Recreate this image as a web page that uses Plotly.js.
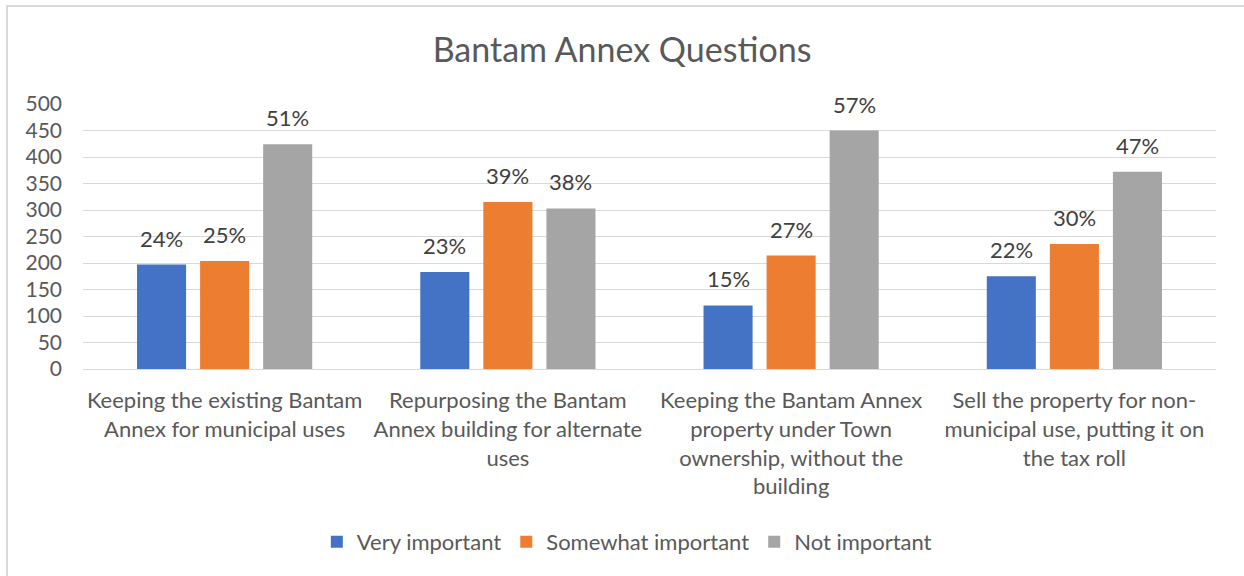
<!DOCTYPE html>
<html>
<head>
<meta charset="utf-8">
<script src="https://cdn.plot.ly/plotly-3.0.1.min.js"></script>
<style>
html,body{margin:0;padding:0;background:#fff;}
#frame{position:absolute;left:6px;top:5px;width:1300px;height:700px;border-left:2px solid #d9d9d9;border-top:2px solid #d9d9d9;pointer-events:none;}
#chart{position:absolute;left:0;top:0;width:1244px;height:576px;}
</style>
</head>
<body>
<div id="chart"></div>
<div id="frame"></div>
<script>
const categories = [
  "Keeping the existing Bantam<br>Annex for municipal uses",
  "Repurposing the Bantam<br>Annex building for alternate<br>uses",
  "Keeping the Bantam Annex<br>property under Town<br>ownership, without the<br>building",
  "Sell the property for non-<br>municipal use, putting it on<br>the tax roll"
];
const seriesNames = ["Very important", "Somewhat important", "Not important"];
const veryImportant = [197, 183, 120, 175];
const somewhatImportant = [204, 315, 214, 236];
const notImportant = [424, 303, 450, 372];
const veryLabels = ["24%", "23%", "15%", "22%"];
const somewhatLabels = ["25%", "39%", "27%", "30%"];
const notLabels = ["51%", "38%", "57%", "47%"];
const colors = ["#4472C4", "#ED7D31", "#A5A5A5"];
const yTicks = [0, 50, 100, 150, 200, 250, 300, 350, 400, 450, 500];

const FONT = "Lato, 'Open Sans', sans-serif";
const values = [veryImportant, somewhatImportant, notImportant];
const labels = [veryLabels, somewhatLabels, notLabels];

const data = values.map((v, i) => ({
  type: "bar",
  name: seriesNames[i],
  x: categories,
  y: v,
  marker: {color: colors[i]},
  hoverinfo: "name+y"
}));

// data labels placed through the axes (category + value), shifted per series slot
const SLOT = 63;
const annotations = [];
values.forEach((v, i) => {
  v.forEach((val, j) => {
    annotations.push({
      x: categories[j], y: val, xref: "x", yref: "y",
      text: labels[i][j], showarrow: false,
      xanchor: "center", yanchor: "bottom",
      xshift: (i - 1) * SLOT, yshift: 11,
      font: {family: FONT, size: 22, color: "#404040"}
    });
  });
});

const layout = {
  width: 1244, height: 576,
  margin: {l: 83, r: 28, t: 104, b: 207},
  paper_bgcolor: "#ffffff",
  plot_bgcolor: "#ffffff",
  barmode: "group",
  bargap: 0.332,
  bargroupgap: 0.222,
  title: {text: "Bantam Annex Questions", x: 0.5, xanchor: "center", y: 0.913, yanchor: "middle",
          font: {family: FONT, size: 34, color: "#595959"}},
  font: {family: FONT, color: "#595959"},
  xaxis: {
    tickfont: {family: FONT, size: 22, color: "#595959"},
    showline: true, linecolor: "#d9d9d9", linewidth: 1,
    ticks: "", showgrid: false, automargin: false,
    ticklabelstandoff: 12
  },
  yaxis: {
    range: [0, 500], tickvals: yTicks, ticktext: yTicks.map(String),
    tickfont: {family: FONT, size: 21, color: "#595959"},
    gridcolor: "#d9d9d9", gridwidth: 1, zeroline: false,
    showline: false, ticks: "", ticklen: 0, automargin: false,
    ticklabelstandoff: 20
  },
  legend: {
    orientation: "h", x: 0.48, xanchor: "center", y: -0.653, yanchor: "middle",
    font: {family: FONT, size: 22, color: "#595959"},
    itemwidth: 30, traceorder: "normal"
  },
  annotations: annotations,
  showlegend: true
};

Plotly.newPlot("chart", data, layout, {displayModeBar: false, staticPlot: true});
</script>
</body>
</html>
